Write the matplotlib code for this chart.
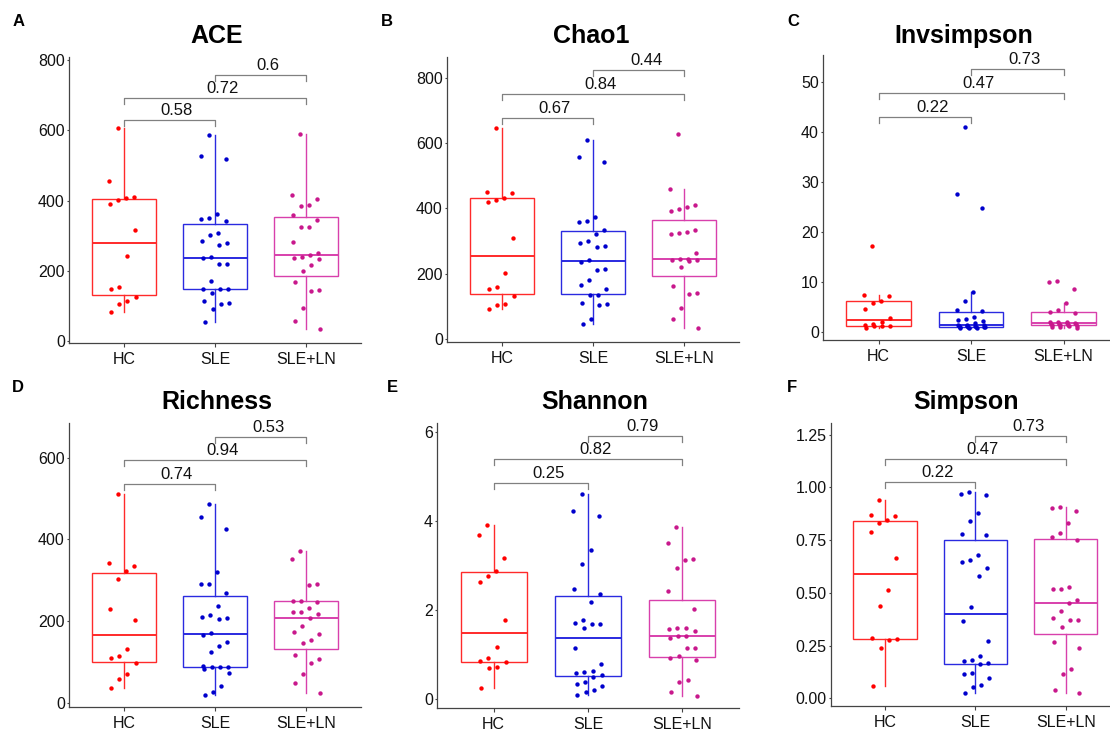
import numpy as np
import matplotlib
matplotlib.use("Agg")
import matplotlib.pyplot as plt
import matplotlib.transforms as mtransforms

plt.rcParams['font.family'] = ['Liberation Sans', 'DejaVu Sans']

groups = ["HC", "SLE", "SLE+LN"]

ace_hc = [607, 456, 411, 407, 401, 392, 317, 243, 154, 148, 126, 116, 106, 84]
ace_sle = [586, 526, 519, 362, 352, 348, 342, 307, 303, 287, 281, 274, 240, 237, 221, 220,
           173, 150, 150, 150, 137, 115, 110, 107, 92, 55]
ace_ln = [589, 416, 404, 388, 386, 360, 345, 325, 324, 283, 252, 247, 240, 236, 235, 218,
          200, 170, 146, 144, 95, 58, 36]

chao_hc = [648, 451, 446, 432, 427, 419, 309, 201, 160, 154, 132, 107, 103, 91]
chao_sle = [609, 557, 544, 374, 360, 359, 333, 322, 299, 294, 284, 281, 241, 237, 214, 212,
            180, 164, 153, 134, 134, 109, 107, 102, 61, 44]
chao_ln = [628, 461, 411, 405, 399, 393, 335, 328, 326, 322, 264, 245, 244, 243, 241, 240,
           221, 163, 140, 138, 95, 61, 33]

invs_hc = [17.2, 7.47, 7.33, 6.33, 5.93, 4.73, 2.87, 2.07, 1.6, 1.4, 1.27, 1.2, 1.2, 0.93]
invs_sle = [41.1, 27.7, 24.9, 8.07, 6.2, 4.4, 4.33, 3.0, 2.73, 2.53, 2.33, 1.8, 1.55, 1.5,
            1.45, 1.35, 1.3, 1.2, 1.1, 1.07, 1.05, 1.0, 1.0, 0.95, 0.9, 0.85]
invs_ln = [10.33, 10.07, 8.67, 5.93, 4.47, 4.13, 3.87, 2.1, 2.0, 2.0, 1.9, 1.8, 1.75, 1.7,
           1.6, 1.55, 1.5, 1.45, 1.35, 1.2, 1.1, 1.0, 0.9]

rich_hc = [512, 341, 335, 322, 304, 229, 203, 131, 114, 109, 98, 70, 59, 36]
rich_sle = [487, 455, 426, 319, 291, 290, 268, 238, 215, 210, 208, 205, 170, 166, 148, 139,
            124, 90, 87, 87, 87, 82, 73, 41, 27, 19]
rich_ln = [372, 353, 291, 289, 250, 249, 247, 233, 222, 222, 216, 208, 187, 173, 169, 153,
           147, 118, 108, 97, 71, 47, 24]

shan_hc = [3.91, 3.67, 3.17, 2.87, 2.77, 2.63, 1.77, 1.17, 0.92, 0.85, 0.83, 0.71, 0.68, 0.23]
shan_sle = [4.60, 4.21, 4.11, 3.34, 3.03, 2.46, 2.36, 2.18, 1.76, 1.70, 1.69, 1.67, 1.60,
            1.15, 0.77, 0.62, 0.59, 0.57, 0.54, 0.49, 0.38, 0.34, 0.29, 0.20, 0.16, 0.09]
shan_ln = [3.85, 3.50, 3.14, 3.11, 2.94, 2.42, 2.02, 1.58, 1.58, 1.57, 1.52, 1.40, 1.40,
           1.37, 1.14, 1.14, 0.97, 0.91, 0.86, 0.41, 0.38, 0.14, 0.07]

simp_hc = [0.94, 0.867, 0.866, 0.845, 0.833, 0.79, 0.667, 0.512, 0.436, 0.284, 0.281,
           0.278, 0.24, 0.06]
simp_sle = [0.976, 0.967, 0.962, 0.877, 0.84, 0.779, 0.773, 0.681, 0.657, 0.646, 0.616,
            0.578, 0.434, 0.367, 0.273, 0.20, 0.18, 0.179, 0.17, 0.163, 0.12, 0.115,
            0.095, 0.063, 0.052, 0.027]
simp_ln = [0.905, 0.902, 0.886, 0.833, 0.782, 0.765, 0.75, 0.528, 0.517, 0.517, 0.468,
           0.452, 0.415, 0.381, 0.373, 0.371, 0.34, 0.269, 0.24, 0.137, 0.115, 0.039, 0.024]

titles = ["ACE", "Chao1", "Invsimpson", "Richness", "Shannon", "Simpson"]
letters = ["A", "B", "C", "D", "E", "F"]

pvals_ace = ["0.58", "0.72", "0.6"]
pvals_chao = ["0.67", "0.84", "0.44"]
pvals_invs = ["0.22", "0.47", "0.73"]
pvals_rich = ["0.74", "0.94", "0.53"]
pvals_shan = ["0.25", "0.82", "0.79"]
pvals_simp = ["0.22", "0.47", "0.73"]

yticks_ace = [0, 200, 400, 600, 800]
yticks_chao = [0, 200, 400, 600, 800]
yticks_invs = [0, 10, 20, 30, 40, 50]
yticks_rich = [0, 200, 400, 600]
yticks_shan = [0, 2, 4, 6]
yticks_simp = [0.00, 0.25, 0.50, 0.75, 1.00, 1.25]

W, H = 1110, 735
fig = plt.figure(figsize=(W / 100, H / 100), dpi=100)
fig.patch.set_facecolor("white")

point_colors = ["#FF0000", "#0000CC", "#C8188C"]
box_colors = ["#FF2A2A", "#2A2AE0", "#D840AC"]

panels = [
    dict(data=[ace_hc, ace_sle, ace_ln], p=pvals_ace, yt=yticks_ace, fmt="{:g}",
         box=(69, 361, 57, 343), ylim=(-4.3, 808.5), br=[629, 691, 757], tx=217, lx=12.5, row=0),
    dict(data=[chao_hc, chao_sle, chao_ln], p=pvals_chao, yt=yticks_chao, fmt="{:g}",
         box=(447, 739, 57, 341.7), ylim=(-9.2, 864.9), br=[679, 751, 825], tx=591, lx=381, row=0),
    dict(data=[invs_hc, invs_sle, invs_ln], p=pvals_invs, yt=yticks_invs, fmt="{:g}",
         box=(823, 1119, 55, 340), ylim=(-1.54, 55.46), br=[43.1, 47.9, 52.6], tx=964, lx=787, row=0),
    dict(data=[rich_hc, rich_sle, rich_ln], p=pvals_rich, yt=yticks_rich, fmt="{:g}",
         box=(69, 361, 423.3, 707.3), ylim=(-11.3, 684.3), br=[535, 594, 651], tx=217, lx=12, row=1),
    dict(data=[shan_hc, shan_sle, shan_ln], p=pvals_shan, yt=yticks_shan, fmt="{:g}",
         box=(437, 739, 423, 708), ylim=(-0.21, 6.2), br=[4.84, 5.38, 5.9], tx=595, lx=387, row=1),
    dict(data=[simp_hc, simp_sle, simp_ln], p=pvals_simp, yt=yticks_simp, fmt="{:.2f}",
         box=(830.7, 1120, 423, 706), ylim=(-0.036, 1.305), br=[1.024, 1.134, 1.244], tx=966, lx=787, row=1),
]

pairs = [(1, 2), (1, 3), (2, 3)]
positions = [1, 2, 3]


def jitter(n):
    k = np.arange(n)
    return (((k * 0.7548776662 + 0.31) % 1.0) - 0.5) * 0.36


for i, pn in enumerate(panels):
    l, r, t, b = pn["box"]
    ax = fig.add_axes([l / W, 1 - b / H, (r - l) / W, (b - t) / H])
    ax.set_xlim(0.4, 3.6)
    ax.set_ylim(*pn["ylim"])
    for s in ["top", "right"]:
        ax.spines[s].set_visible(False)
    for s in ["left", "bottom"]:
        ax.spines[s].set_color("#444444")
        ax.spines[s].set_linewidth(0.9)

    for g, vals in enumerate(pn["data"]):
        bp = ax.boxplot([vals], positions=[positions[g]], widths=0.7, whis=1.5,
                        showfliers=False, patch_artist=True, manage_ticks=False)
        c = box_colors[g]
        for patch in bp["boxes"]:
            patch.set_facecolor("white")
            patch.set_edgecolor(c)
            patch.set_linewidth(1.0)
        for w in bp["whiskers"]:
            w.set_color(c)
            w.set_linewidth(1.0)
        for cap in bp["caps"]:
            cap.set_visible(False)
        for m in bp["medians"]:
            m.set_color(c)
            m.set_linewidth(1.4)
        xs = positions[g] + jitter(len(vals))
        ax.scatter(xs, vals, s=10, color=point_colors[g], zorder=3, linewidths=0)

    ax.set_xticks(positions)
    ax.set_xticklabels(groups)
    ax.set_yticks(pn["yt"])
    ax.set_yticklabels([pn["fmt"].format(v) for v in pn["yt"]])
    ax.tick_params(axis="x", length=3, width=0.8, color="#444444", pad=3.5,
                   labelsize=11.5, labelcolor="#111111")
    ax.tick_params(axis="y", length=1.5, width=0.8, color="#444444", pad=1.5,
                   labelsize=11.5, labelcolor="#111111")

    pxu = (b - t) / (pn["ylim"][1] - pn["ylim"][0])
    leg = 6.0 / pxu
    txt_off = mtransforms.offset_copy(ax.transData, fig=fig, x=7.5, y=2.0, units="dots")
    for (a, c2), yb, lab in zip(pairs, pn["br"], pn["p"]):
        ax.plot([a, a, c2, c2], [yb - leg, yb, yb, yb - leg], color="#808080",
                lw=0.9, clip_on=False, zorder=4)
        ax.text((a + c2) / 2, yb, lab, ha="center", va="bottom", fontsize=12,
                color="#111111", transform=txt_off, clip_on=False)

    ty = 43.3 if pn["row"] == 0 else 408.5
    fig.text(pn["tx"] / W, 1 - ty / H, titles[i], ha="center", va="baseline",
             fontsize=18, fontweight="bold", color="black")
    ly = 25.5 if pn["row"] == 0 else 392
    fig.text(pn["lx"] / W, 1 - ly / H, letters[i], ha="left", va="baseline",
             fontsize=12, fontweight="bold", color="black")

fig.savefig("out.png", dpi=100, facecolor="white")
